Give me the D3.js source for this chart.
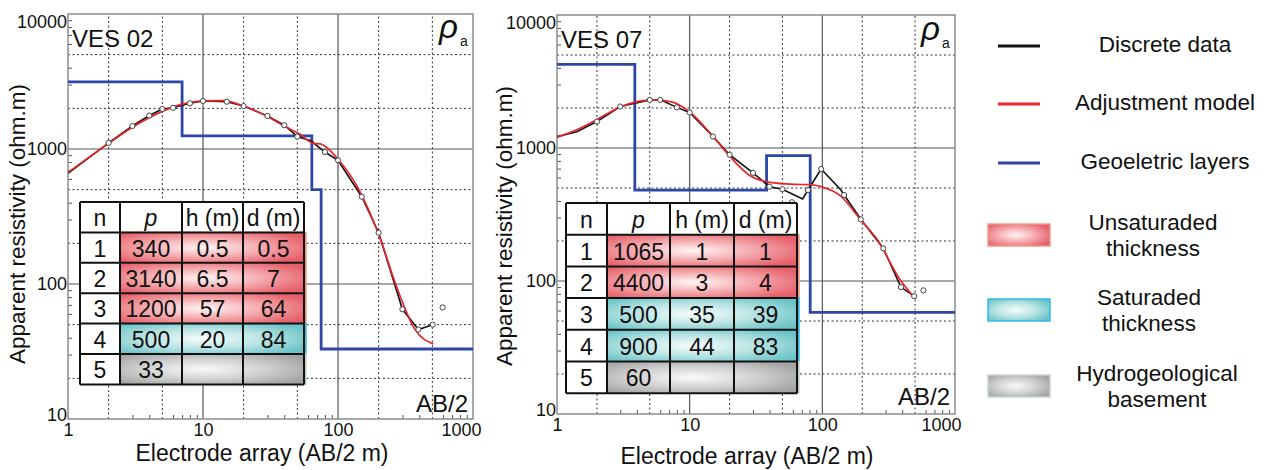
<!DOCTYPE html>
<html>
<head>
<meta charset="utf-8">
<script src="https://cdn.jsdelivr.net/npm/d3@7"></script>
<style>
  body { margin: 0; background: #fff; }
  text { font-family: "Liberation Sans", Arial, sans-serif; fill: #111; }
  .cell { font-family: "Liberation Sans Narrow", "Arial Narrow", "Liberation Sans", sans-serif; }
</style>
</head>
<body>
<div id="chart"></div>
<script>
// ---- axis ticks ----
const xDecades = [1, 10, 100, 1000];
const yDecades = [10, 100, 1000, 10000];
const xDotted = [2, 5, 20, 50, 200, 500];
const yDotted = [20, 50, 200, 500, 2000, 5000];
const minorSteps = [3, 4, 6, 7, 8, 9];

// ---- VES 02 ----
// discrete data: [AB/2, rho, 1 = marker drawn]
const ves02Data = [[1, 660, 0], [2, 1110, 1], [3, 1480, 1], [4, 1770, 1], [5, 1980, 1], [6, 2020, 1],
  [8, 2180, 1], [10, 2270, 1], [15, 2240, 1], [20, 2080, 1], [30, 1760, 1], [40, 1500, 1],
  [50, 1235, 1], [63, 1150, 0], [80, 950, 1], [100, 825, 1], [150, 443, 1], [200, 240, 1],
  [300, 65, 1], [394, 46, 1], [503, 50, 1]];
const ves02Outliers = [[596, 67]];
const ves02Model = [[1, 670], [2, 1100], [3, 1450], [5, 1900], [7, 2150], [10, 2270], [14, 2280],
  [20, 2080], [30, 1740], [40, 1480], [52, 1290], [66, 1100], [74, 1090], [100, 840], [141, 512],
  [205, 218], [272, 95], [372, 46], [508, 36]];
const ves02Layers = [[1, 3140], [7, 1250], [64, 500], [75, 33], [1000, 33]];
const ves02Rho = [340, 3140, 1200, 500, 33];
const ves02H = ['0.5', '6.5', '57', '20', ''];
const ves02D = ['0.5', '7', '64', '84', ''];
const ves02Zone = ['u', 'u', 'u', 's', 'b'];

// ---- VES 07 ----
const ves07Data = [[1, 1217, 0], [1.41, 1327, 0], [2, 1580, 1], [3, 2050, 1], [5, 2300, 1], [6, 2300, 1],
  [8, 2020, 1], [10, 1850, 1], [15, 1220, 1], [20, 890, 1], [30, 650, 1], [40, 512, 1],
  [50, 490, 1], [71, 414, 0], [78, 483, 1], [98, 695, 1], [138, 483, 0], [146, 443, 1],
  [195, 291, 1], [288, 176, 1], [391, 90, 1], [492, 77, 1]];
const ves07Outliers = [[59, 391], [578, 85]];
const ves07Model = [[1, 1200], [1.49, 1406], [2, 1640], [3, 2030], [4, 2230], [5.3, 2300], [7.3, 2220],
  [10, 1870], [15, 1220], [20, 870], [28, 627], [40, 552], [63, 533], [80, 530], [98, 512],
  [137, 436], [195, 288], [261, 203], [379, 105], [506, 73]];
const ves07Layers = [[1, 4260], [3.86, 483], [38, 875], [81, 58], [1000, 58]];
const ves07Rho = [1065, 4400, 500, 900, 60];
const ves07H = ['1', '3', '35', '44', ''];
const ves07D = ['1', '4', '39', '83', ''];
const ves07Zone = ['u', 'u', 's', 's', 'b'];

const tableHead = ['n', 'p', 'h (m)', 'd (m)'];

const legendLines = [
  { label: 'Discrete data', color: '#111' },
  { label: 'Adjustment model', color: '#e8262b' },
  { label: 'Geoeletric layers', color: '#2d47a6' }
];
const legendBoxes = [
  { lines: ['Unsaturaded', 'thickness'], zone: 'u' },
  { lines: ['Saturaded', 'thickness'], zone: 's' },
  { lines: ['Hydrogeological', 'basement'], zone: 'b' }
];

const zoneStyle = {
  u: { stops: ['#fff6f6', '#f3a3a8', '#e65f69'], outline: '#f09a88' },
  s: { stops: ['#f6fcfc', '#b5e2e2', '#6cc4c7'], outline: '#33b9e8' },
  b: { stops: ['#fafafa', '#cfcfcf', '#a4a4a4'], outline: '#c9d6c9' }
};

const svg = d3.select('#chart').append('svg')
  .attr('width', 1264)
  .attr('height', 470);

const defs = svg.append('defs');
Object.entries(zoneStyle).forEach(([k, s]) => {
  const grad = defs.append('radialGradient')
    .attr('id', 'grad-' + k)
    .attr('cx', 0.45).attr('cy', 0.5).attr('r', 0.62);
  grad.append('stop').attr('offset', 0).attr('stop-color', s.stops[0]);
  grad.append('stop').attr('offset', 0.55).attr('stop-color', s.stops[1]);
  grad.append('stop').attr('offset', 1).attr('stop-color', s.stops[2]);
});

function minorOf(decades) {
  const out = [];
  decades.slice(0, -1).forEach(d => minorSteps.forEach(m => out.push(d * m)));
  return out;
}

function drawPanel(p) {
  const x = d3.scaleLog().domain([1, 1000]).range([p.x0, p.x1]);
  const y = d3.scaleLog().domain([10, 10000]).range([p.y0, p.y1]);
  const g = svg.append('g');

  defs.append('clipPath').attr('id', 'clip-' + p.id)
    .append('rect')
    .attr('x', p.x0).attr('y', p.y1)
    .attr('width', p.x1 - p.x0).attr('height', p.y0 - p.y1);

  // dotted grid at 2 and 5
  g.selectAll('.vdot').data(xDotted).join('line')
    .attr('x1', d => x(d)).attr('x2', d => x(d))
    .attr('y1', p.y0).attr('y2', p.y1)
    .attr('stroke', '#333').attr('stroke-width', 1).attr('stroke-dasharray', '2,2.5');
  g.selectAll('.hdot').data(yDotted).join('line')
    .attr('y1', d => y(d)).attr('y2', d => y(d))
    .attr('x1', p.x0).attr('x2', p.x1)
    .attr('stroke', '#333').attr('stroke-width', 1).attr('stroke-dasharray', '2,2.5');

  // solid decade lines
  g.selectAll('.vdec').data(xDecades.slice(1, -1)).join('line')
    .attr('x1', d => x(d)).attr('x2', d => x(d))
    .attr('y1', p.y0).attr('y2', p.y1)
    .attr('stroke', '#555').attr('stroke-width', 1.2);
  g.selectAll('.hdec').data(yDecades.slice(1, -1)).join('line')
    .attr('y1', d => y(d)).attr('y2', d => y(d))
    .attr('x1', p.x0).attr('x2', p.x1)
    .attr('stroke', '#555').attr('stroke-width', 1.2);

  // minor inward ticks
  const bottomMinor = g.append('g')
    .attr('transform', `translate(0,${p.y0})`)
    .call(d3.axisBottom(x).tickValues(minorOf(xDecades)).tickSize(-4).tickFormat(''));
  const leftMinor = g.append('g')
    .attr('transform', `translate(${p.x0},0)`)
    .call(d3.axisLeft(y).tickValues(minorOf(yDecades)).tickSize(-4).tickFormat(''));
  [bottomMinor, leftMinor].forEach(a => {
    a.select('.domain').remove();
    a.selectAll('line').attr('stroke', '#555');
  });

  // frame
  g.append('rect')
    .attr('x', p.x0).attr('y', p.y1)
    .attr('width', p.x1 - p.x0).attr('height', p.y0 - p.y1)
    .attr('fill', 'none').attr('stroke', '#8c8c8c').attr('stroke-width', 1.5);

  // tick labels
  const xLab = g.append('g')
    .attr('transform', `translate(0,${p.y0})`)
    .call(d3.axisBottom(x).tickValues(xDecades).tickSize(0).tickPadding(4).tickFormat(d3.format('d')));
  xLab.select('.domain').remove();
  xLab.selectAll('text').attr('font-size', 18).attr('fill', '#222')
    .style('font-family', '"Liberation Sans", Arial, sans-serif');
  xLab.selectAll('.tick').filter(d => d === 1000).select('text')
    .attr('text-anchor', 'end').attr('x', p.lastLabelShift);

  const yLab = g.append('g')
    .attr('transform', `translate(${p.x0},0)`)
    .call(d3.axisLeft(y).tickValues(yDecades).tickSize(0).tickPadding(1).tickFormat(d3.format('d')));
  yLab.select('.domain').remove();
  yLab.selectAll('text').attr('font-size', 18).attr('fill', '#222')
    .style('font-family', '"Liberation Sans", Arial, sans-serif');
  yLab.selectAll('.tick').filter(d => d === 10000).select('text').attr('dy', '0.75em');
  yLab.selectAll('.tick').filter(d => d === 10).select('text').attr('dy', '0.1em');

  // curves
  const plot = g.append('g').attr('clip-path', `url(#clip-${p.id})`);
  plot.append('path')
    .datum(p.layers)
    .attr('d', d3.line().x(d => x(d[0])).y(d => y(d[1])).curve(d3.curveStepAfter))
    .attr('fill', 'none').attr('stroke', '#2d47a6').attr('stroke-width', 2.8);
  plot.append('path')
    .datum(p.data)
    .attr('d', d3.line().x(d => x(d[0])).y(d => y(d[1])))
    .attr('fill', 'none').attr('stroke', '#111').attr('stroke-width', 1.6);
  plot.append('path')
    .datum(p.model)
    .attr('d', d3.line().x(d => x(d[0])).y(d => y(d[1])).curve(d3.curveMonotoneX))
    .attr('fill', 'none').attr('stroke', '#e8262b').attr('stroke-width', 1.7);
  plot.selectAll('.pt')
    .data(p.data.filter(d => d[2]).concat(p.outliers))
    .join('circle')
    .attr('cx', d => x(d[0])).attr('cy', d => y(d[1]))
    .attr('r', 2.6)
    .attr('fill', '#fff').attr('stroke', '#444').attr('stroke-width', 1);

  // labels inside plot
  g.append('text').attr('x', p.x0 + 4).attr('y', p.vesY)
    .attr('font-size', 24).text(p.name);
  const rho = g.append('text').attr('x', p.x1 - 34).attr('y', p.rhoY);
  rho.append('tspan').attr('font-size', 33).attr('font-style', 'italic').text('ρ');
  rho.append('tspan').attr('font-size', 14).attr('dy', 8).attr('dx', 2).text('a');
  g.append('text').attr('x', p.x1 - 5).attr('y', p.abY)
    .attr('text-anchor', 'end').attr('font-size', 24).text('AB/2');

  // axis titles
  g.append('text')
    .attr('transform', `translate(${p.yTitleX},${p.yTitleY}) rotate(-90)`)
    .attr('text-anchor', 'middle').attr('dominant-baseline', 'central')
    .attr('font-size', 22.5).attr('fill', '#222')
    .text('Apparent resistivity (ohm.m)');
  g.append('text')
    .attr('x', p.xTitleX).attr('y', p.xTitleY)
    .attr('text-anchor', 'middle')
    .attr('font-size', 23).attr('fill', '#222')
    .text('Electrode array (AB/2 m)');

  // layer table
  const t = p.table;
  const rows = p.rho.map((r, i) => ({
    cells: [String(i + 1), String(r), p.h[i], p.d[i]],
    zone: p.zone[i]
  }));
  const rowY = i => t.top + i * t.rowH;
  const tg = g.append('g');
  tg.append('rect')
    .attr('x', t.cols[0]).attr('y', t.top)
    .attr('width', t.cols[4] - t.cols[0]).attr('height', t.rowH * 6)
    .attr('fill', '#fff');
  tg.selectAll('.band').data(rows).join('rect')
    .attr('x', t.cols[1]).attr('y', (d, i) => rowY(i + 1))
    .attr('width', t.cols[4] - t.cols[1] + 2).attr('height', t.rowH)
    .attr('fill', d => `url(#grad-${d.zone})`)
    .attr('stroke', d => zoneStyle[d.zone].outline).attr('stroke-width', 1.5);
  // grid lines
  t.cols.forEach(cx => {
    tg.append('line').attr('x1', cx).attr('x2', cx)
      .attr('y1', t.top).attr('y2', t.top + t.rowH * 6)
      .attr('stroke', '#111').attr('stroke-width', 2);
  });
  d3.range(7).forEach(i => {
    tg.append('line').attr('x1', t.cols[0]).attr('x2', t.cols[4])
      .attr('y1', rowY(i)).attr('y2', rowY(i))
      .attr('stroke', '#111').attr('stroke-width', 2);
  });
  const colMid = j => (t.cols[j] + t.cols[j + 1]) / 2;
  tableHead.forEach((h, j) => {
    tg.append('text').attr('class', 'cell')
      .attr('x', colMid(j)).attr('y', rowY(0) + t.rowH / 2 + 1)
      .attr('text-anchor', 'middle').attr('dominant-baseline', 'central')
      .attr('font-size', 23)
      .attr('font-style', j === 1 ? 'italic' : 'normal')
      .text(h);
  });
  rows.forEach((r, i) => {
    r.cells.forEach((c, j) => {
      tg.append('text').attr('class', 'cell')
        .attr('x', colMid(j)).attr('y', rowY(i + 1) + t.rowH / 2 + 1)
        .attr('text-anchor', 'middle').attr('dominant-baseline', 'central')
        .attr('font-size', 23).text(c);
    });
  });
}

drawPanel({
  id: 'ves02', name: 'VES 02',
  x0: 68, x1: 473, y0: 419, y1: 14,
  data: ves02Data, outliers: ves02Outliers, model: ves02Model, layers: ves02Layers,
  rho: ves02Rho, h: ves02H, d: ves02D, zone: ves02Zone,
  table: { cols: [80, 120, 182, 243, 304], top: 202, rowH: 30.4 },
  lastLabelShift: 8, vesY: 47, rhoY: 38, abY: 412,
  yTitleX: 17, yTitleY: 224, xTitleX: 262, xTitleY: 461
});

drawPanel({
  id: 'ves07', name: 'VES 07',
  x0: 557, x1: 955, y0: 414, y1: 15,
  data: ves07Data, outliers: ves07Outliers, model: ves07Model, layers: ves07Layers,
  rho: ves07Rho, h: ves07H, d: ves07D, zone: ves07Zone,
  table: { cols: [566, 607, 670, 734, 797], top: 203, rowH: 31.7 },
  lastLabelShift: 6, vesY: 48, rhoY: 40, abY: 405,
  yTitleX: 504, yTitleY: 226, xTitleX: 747, xTitleY: 464
});

// ---- legend ----
const leg = svg.append('g');
const lineY = [46, 104, 163];
leg.selectAll('.ll').data(legendLines).join('line')
  .attr('x1', 998).attr('x2', 1040)
  .attr('y1', (d, i) => lineY[i]).attr('y2', (d, i) => lineY[i])
  .attr('stroke', d => d.color).attr('stroke-width', 3);
leg.selectAll('.lt').data(legendLines).join('text')
  .attr('x', 1165).attr('y', (d, i) => lineY[i] - 2)
  .attr('text-anchor', 'middle').attr('dominant-baseline', 'central')
  .attr('font-size', 22.5).text(d => d.label);

const boxY = [224, 299, 375];
const boxTextX = [1153, 1149, 1157];
leg.selectAll('.lb').data(legendBoxes).join('rect')
  .attr('x', 988).attr('y', (d, i) => boxY[i])
  .attr('width', 62).attr('height', 22)
  .attr('fill', d => `url(#grad-${d.zone})`)
  .attr('stroke', d => zoneStyle[d.zone].outline).attr('stroke-width', 1.5);
legendBoxes.forEach((b, i) => {
  b.lines.forEach((ln, k) => {
    leg.append('text')
      .attr('x', boxTextX[i]).attr('y', boxY[i] - 2 + k * 26)
      .attr('text-anchor', 'middle').attr('dominant-baseline', 'central')
      .attr('font-size', 22.5).text(ln);
  });
});
</script>
</body>
</html>
